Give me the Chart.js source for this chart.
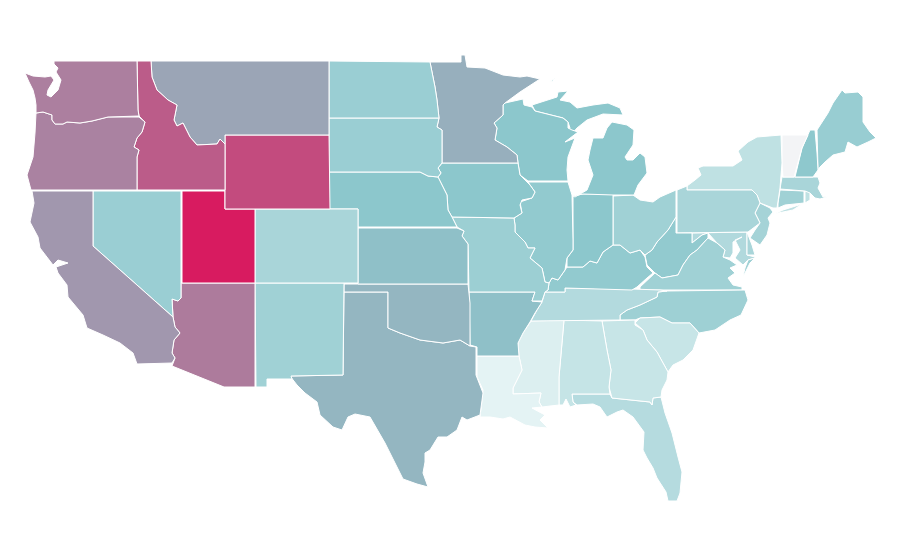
<!DOCTYPE html>
<html><head><meta charset="utf-8">
<style>html,body{margin:0;padding:0;background:#fff}canvas{display:block}</style>
<script src="https://cdn.jsdelivr.net/npm/chart.js@4/dist/chart.umd.min.js"></script>
</head><body><canvas id="c" width="900" height="560"></canvas>
<script>
// Choropleth values (0 = palest, 50 = teal, 100 = deep pink), estimated from each state's colour.
const stateNames = ["Washington","Oregon","California","Nevada","Idaho","Montana","Wyoming","Utah","Colorado","Arizona","New Mexico","North Dakota","South Dakota","Nebraska","Kansas","Oklahoma","Texas","Minnesota","Iowa","Missouri","Arkansas","Louisiana","Wisconsin","Illinois","Michigan","Indiana","Ohio","Kentucky","Tennessee","Mississippi","Alabama","Georgia","Florida","South Carolina","North Carolina","Virginia","West Virginia","Pennsylvania","New York","Vermont","New Hampshire","Maine","Massachusetts","Connecticut","Rhode Island","New Jersey","Delaware","Maryland"];
const stateValues = [71,70,64,43,81,60,86,100,36,72,40,43,43,50,52,55,55,57,50,42,52,7,50,47,50,50,40,47,31,11,22,21,30,21,41,40,47,36,25,0,49,44,36,40,25,38,36,32];

const WA=[[54,61],[137,61],[138,110],[139,116],[108,117],[92,121],[80,123],[67,122],[63,124],[55,124],[52,120],[52,115],[43,112],[36,113],[36,105],[35,98],[33,90],[29,82],[25,73],[33,76],[45,77],[51,76],[54,80],[48,90],[47,95],[51,97],[58,90],[61,80],[56,72],[58,68],[54,64]];
const OR=[[36,113],[43,112],[52,115],[52,120],[55,124],[63,124],[67,122],[80,123],[92,121],[108,117],[139,117],[145,122],[142,132],[137,138],[134,147],[139,150],[137,157],[137,190],[31,190],[27,175],[33,157],[35,133]];
const CA=[[32,191],[93,191],[93,246],[173,317],[175,327],[180,333],[174,340],[172,353],[175,358],[172,363],[137,364],[133,353],[120,343],[103,335],[87,328],[83,315],[68,297],[67,285],[58,273],[56,267],[68,263],[58,260],[53,265],[40,248],[38,237],[30,222],[34,203]];
const NV=[[93,191],[181,191],[181,298],[178,301],[172,299],[173,317],[93,246]];
const ID=[[137,61],[151,61],[152,77],[157,90],[168,100],[177,105],[174,120],[177,126],[183,123],[190,137],[197,145],[217,144],[220,139],[225,144],[225,190],[137,190],[137,157],[139,150],[134,147],[137,138],[142,132],[145,122],[139,116],[138,110]];
const MT=[[151,61],[329,61],[329,135],[225,135],[225,144],[220,139],[217,144],[197,145],[190,137],[183,123],[177,126],[174,120],[177,105],[168,100],[157,90],[152,77]];
const WY=[[225,135],[329,135],[330,209],[225,209]];
const UT=[[182,191],[225,191],[225,209],[255,209],[255,283],[182,283]];
const CO=[[255,209],[358,209],[358,283],[255,283]];
const AZ=[[181,283],[255,283],[255,387],[224,387],[172,366],[175,358],[172,353],[174,340],[180,333],[175,327],[173,317],[172,299],[178,301],[181,298]];
const NM=[[255,283],[344,283],[343,375],[291,376],[292,379],[267,379],[267,387],[256,387]];
const ND=[[329,61],[430,62],[435,87],[437,100],[439,118],[329,118]];
const SD=[[329,118],[439,118],[437,127],[442,130],[442,163],[438,168],[441,173],[438,177],[428,176],[420,172],[329,172]];
const NE=[[329,172],[420,172],[428,176],[438,177],[447,195],[448,210],[452,217],[457,227],[358,227],[358,209],[329,209]];
const KS=[[358,228],[457,228],[464,231],[462,236],[468,244],[468,284],[358,284]];
const OK=[[344,284],[468,284],[470,303],[470,346],[460,340],[443,343],[420,340],[400,333],[388,328],[388,292],[344,292]];
const TX=[[344,292],[388,292],[388,328],[400,333],[420,340],[443,343],[460,340],[470,346],[476,347],[476,375],[483,393],[480,415],[467,420],[462,417],[457,430],[447,437],[438,437],[430,450],[425,453],[425,462],[423,473],[428,487],[417,484],[403,479],[397,467],[385,443],[370,417],[355,414],[348,417],[342,430],[333,427],[320,415],[317,402],[305,393],[297,385],[290,376],[343,375]];
const MN=[[430,62],[461,62],[461,55],[465,55],[467,67],[485,68],[503,75],[520,77],[527,76],[540,79],[520,92],[505,103],[503,105],[503,115],[494,123],[497,128],[495,140],[507,147],[517,155],[518,163],[442,163],[442,130],[437,127],[439,118],[437,100],[435,87]];
const IA=[[442,163],[518,163],[520,175],[530,185],[535,192],[532,198],[522,200],[520,205],[522,213],[514,218],[452,217],[448,210],[447,195],[438,177],[441,173],[438,168]];
const MO=[[452,217],[514,218],[515,225],[515,232],[525,242],[528,248],[535,248],[530,258],[542,268],[545,282],[549,283],[548,290],[545,292],[542,301],[532,301],[535,292],[469,292],[468,244],[462,236],[464,231],[457,227]];
const AR=[[469,292],[535,292],[532,301],[542,302],[535,313],[530,322],[523,333],[518,343],[519,356],[477,356],[477,347],[470,345]];
const LA=[[477,356],[519,356],[522,370],[513,388],[513,394],[541,393],[539,402],[542,407],[532,408],[545,415],[540,420],[548,428],[535,427],[525,425],[510,417],[503,419],[490,417],[480,417],[482,400],[483,390],[477,377]];
const WI=[[505,103],[523,99],[524,105],[532,107],[535,111],[563,118],[568,122],[568,128],[572,130],[578,132],[565,142],[575,138],[568,157],[567,170],[568,181],[528,181],[520,175],[518,163],[517,155],[507,147],[495,140],[497,128],[494,123],[503,115],[503,105]];
const IL=[[528,182],[568,182],[572,195],[573,240],[573,250],[567,258],[565,270],[558,280],[552,278],[549,283],[545,282],[542,268],[530,258],[535,248],[528,248],[525,242],[515,232],[515,225],[514,218],[522,213],[520,202],[532,198],[535,192]];
const MI=[[573,196],[583,194],[613,195],[634,195],[638,185],[647,173],[645,157],[640,153],[633,160],[627,160],[625,157],[633,145],[634,130],[627,125],[612,122],[607,128],[603,138],[593,138],[590,150],[588,160],[593,175],[587,190],[575,197]];
const MIU=[[532,105],[557,97],[558,92],[568,91],[560,100],[570,102],[577,108],[593,105],[608,103],[620,108],[623,115],[603,114],[587,120],[577,128],[565,142],[570,128],[568,122],[563,118],[535,111]];
const MII=[[549,82],[556,78],[553,81]];
const IN=[[573,196],[583,194],[613,194],[613,245],[603,252],[597,263],[590,261],[583,267],[567,267],[567,258],[573,250],[573,240]];
const OH=[[613,196],[633,195],[640,200],[653,202],[660,197],[676,190],[676,217],[668,230],[657,242],[652,250],[645,255],[640,250],[630,253],[620,245],[613,245]];
const KY=[[567,267],[583,267],[590,261],[597,263],[603,252],[613,245],[620,245],[630,253],[640,250],[645,257],[647,267],[653,273],[647,278],[637,287],[632,290],[565,288],[565,292],[545,292],[548,290],[549,283],[552,278],[558,280],[565,270]];
const TN=[[545,292],[565,292],[565,288],[632,289],[660,290],[667,291],[658,292],[657,297],[640,305],[627,310],[620,315],[620,320],[531,321],[537,310],[542,302]];
const MS=[[531,321],[564,320],[559,377],[559,405],[550,406],[542,407],[539,402],[541,393],[513,394],[513,388],[522,370],[519,356],[518,343],[523,333]];
const AL=[[564,320],[602,321],[607,350],[611,370],[609,387],[610,394],[572,394],[573,402],[576,405],[570,407],[566,399],[563,405],[559,405],[559,377]];
const GA=[[602,321],[635,320],[635,325],[643,330],[647,340],[657,352],[663,363],[668,372],[667,380],[662,390],[661,397],[653,398],[652,405],[650,402],[612,398],[609,387],[611,370],[607,350]];
const FL=[[572,394],[610,394],[612,398],[650,402],[652,405],[653,398],[661,397],[665,413],[672,433],[678,457],[682,472],[680,493],[677,501],[668,501],[666,492],[657,478],[653,468],[647,458],[643,450],[644,432],[633,417],[623,410],[617,412],[607,417],[600,407],[593,404],[577,405],[573,402]];
const SC=[[635,323],[640,318],[660,317],[672,323],[690,323],[699,333],[693,350],[683,360],[673,365],[668,372],[663,363],[657,352],[647,340],[643,330]];
const NC=[[620,320],[635,320],[640,318],[660,317],[672,323],[690,323],[699,333],[715,330],[730,320],[741,315],[748,300],[745,290],[667,291],[658,292],[657,297],[640,305],[627,310],[620,315]];
const VA=[[640,287],[655,273],[662,278],[678,275],[683,265],[690,255],[697,250],[708,238],[717,243],[725,250],[723,257],[730,260],[737,265],[730,268],[735,273],[728,278],[733,285],[742,287],[742,290],[640,290]];
const VAE=[[755,258],[750,263],[743,277],[745,268],[748,260]];
const WV=[[676,217],[676,233],[692,233],[692,243],[702,235],[708,233],[708,238],[697,250],[690,255],[683,265],[678,275],[662,278],[655,273],[647,265],[645,255],[652,250],[657,242],[668,230]];
const MD=[[692,233],[747,232],[747,255],[755,257],[755,258],[748,260],[743,265],[735,258],[740,250],[735,240],[742,237],[733,242],[733,253],[730,258],[723,257],[725,250],[717,243],[708,233],[702,235],[692,243]];
const DE=[[747,232],[752,245],[755,255],[747,255]];
const PA=[[677,190],[687,186],[687,190],[752,190],[757,195],[760,203],[755,213],[760,223],[748,232],[677,233]];
const NJ=[[760,203],[770,208],[773,212],[768,218],[770,223],[767,235],[760,245],[750,238],[755,230],[760,223],[755,213]];
const NY=[[687,186],[687,190],[752,190],[757,195],[760,203],[773,208],[777,208],[780,188],[782,163],[781,135],[757,137],[748,142],[738,151],[742,160],[733,166],[703,166],[698,168],[701,175],[695,180]];
const NYL=[[772,215],[783,210],[802,204],[793,210],[773,214]];
const VT=[[782,135],[808,135],[802,148],[794,177],[783,177],[782,163]];
const NH=[[810,130],[815,130],[817,153],[818,170],[813,177],[795,177],[802,148]];
const ME=[[817,130],[828,113],[833,103],[842,90],[845,93],[858,92],[863,97],[863,122],[870,132],[876,138],[868,142],[857,147],[848,142],[845,152],[833,155],[825,162],[820,167],[818,170]];
const MA=[[782,177],[818,177],[820,183],[818,188],[823,197],[830,196],[820,199],[815,198],[810,193],[805,191],[780,189]];
const CT=[[780,190],[804,191],[804,203],[785,205],[778,208],[778,203]];
const RI=[[805,191],[810,192],[810,200],[805,203]];

// Which outlines draw which state.
const stateShapes = {Washington:[WA],Oregon:[OR],California:[CA],Nevada:[NV],Idaho:[ID],Montana:[MT],Wyoming:[WY],Utah:[UT],Colorado:[CO],Arizona:[AZ],"New Mexico":[NM],"North Dakota":[ND],"South Dakota":[SD],Nebraska:[NE],Kansas:[KS],Oklahoma:[OK],Texas:[TX],Minnesota:[MN],Iowa:[IA],Missouri:[MO],Arkansas:[AR],Louisiana:[LA],Wisconsin:[WI],Illinois:[IL],Michigan:[MI,MIU,MII],Indiana:[IN],Ohio:[OH],Kentucky:[KY],Tennessee:[TN],Mississippi:[MS],Alabama:[AL],Georgia:[GA],Florida:[FL],"South Carolina":[SC],"North Carolina":[NC],Virginia:[VA,VAE],"West Virginia":[WV],Pennsylvania:[PA],"New York":[NY,NYL],Vermont:[VT],"New Hampshire":[NH],Maine:[ME],Massachusetts:[MA],Connecticut:[CT],"Rhode Island":[RI],"New Jersey":[NJ],Delaware:[DE],Maryland:[MD]};

const colorStops=[[0,[243,244,246]],[5,[232,245,246]],[50,[140,199,204]],[100,[216,27,96]]];
function shade(v){
  let k=0;
  while(k<colorStops.length-2 && v>colorStops[k+1][0]) k++;
  const [v0,a]=colorStops[k],[v1,b]=colorStops[k+1],t=(v-v0)/(v1-v0);
  return 'rgb('+a.map((c,i)=>Math.round(c+(b[i]-c)*t)).join(',')+')';
}
const datasets=[];
stateNames.forEach((name,i)=>{
  stateShapes[name].forEach(shape=>{
    datasets.push({label:name,data:shape.concat([shape[0]]).map(p=>({x:p[0],y:p[1]})),showLine:true,fill:'shape',
      backgroundColor:shade(stateValues[i]),borderColor:'#fff',borderWidth:1,borderDash:[100000],pointRadius:0,tension:0});
  });
});
new Chart(document.getElementById('c'),{type:'scatter',data:{datasets},options:{
  responsive:false,animation:false,events:[],layout:{padding:0},
  plugins:{legend:{display:false},tooltip:{enabled:false},filler:{propagate:false}},
  scales:{x:{type:'linear',min:0,max:900,display:false},y:{type:'linear',min:0,max:560,reverse:true,display:false}}
}});
</script></body></html>
